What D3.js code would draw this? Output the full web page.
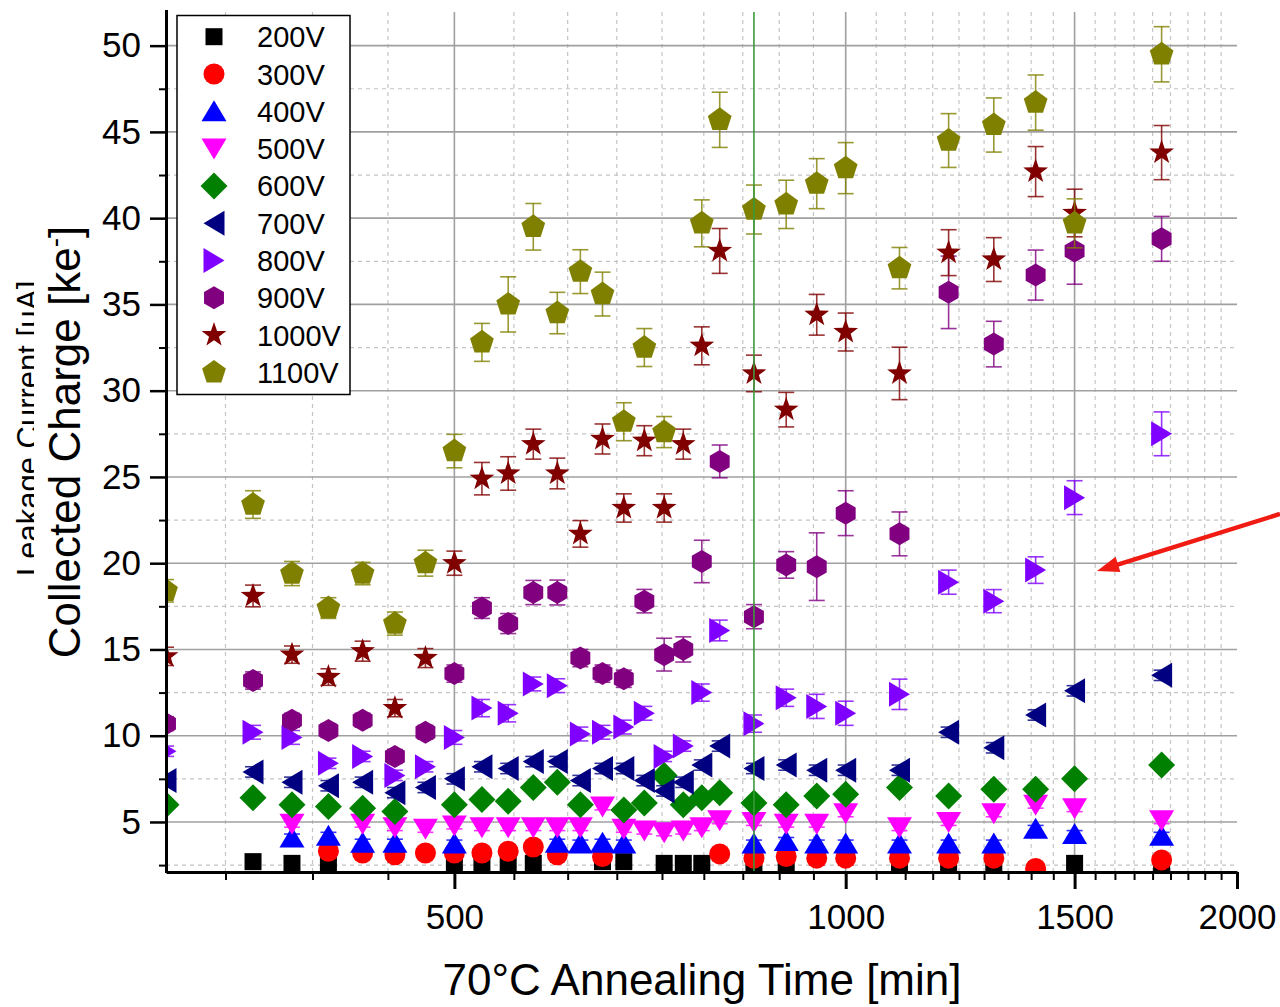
<!DOCTYPE html>
<html>
<head>
<meta charset="utf-8">
<script src="https://cdn.jsdelivr.net/npm/d3@7"></script>
<style>
  body { margin: 0; background: #fff; }
  svg { display: block; font-family: "Liberation Sans", Arial, sans-serif; }
</style>
</head>
<body>
<svg id="chart" width="1280" height="1007"></svg>
<script>
// annealing times [min] shared by all series
const times = [300,350,375,400,425,450,475,500,525,550,575,600,625,650,675,700,725,750,775,800,850,900,950,1000,1100,1200,1300,1400,1500,1750];

const seriesNames  = ["200V","300V","400V","500V","600V","700V","800V","900V","1000V","1100V"];
const seriesColors = ["#000000","#ff0000","#0000ff","#ff00ff","#008000","#000080","#8000ff","#800080","#800000","#808000"];
const seriesShapes = ["square","circle","up","down","diamond","left","right","hexagon","star","pentagon"];

// collected charge [ke-], one value per time (null = no point)
const charge200  = [null,2.7,2.6,2.6,null,null,null,2.6,2.6,2.6,2.6,null,null,2.7,2.7,null,2.6,2.6,2.6,null,2.6,2.6,null,null,2.6,2.6,2.6,null,2.6,2.6];
const charge300  = [null,null,null,3.3,3.2,3.1,3.2,3.2,3.2,3.3,3.55,3.1,null,3.0,null,null,null,null,null,3.15,2.9,3.0,2.9,2.9,2.9,2.9,2.9,2.3,null,2.8];
const charge400  = [null,null,4.1,4.2,3.8,3.8,null,3.75,null,null,null,3.8,3.75,3.8,3.75,null,null,null,null,null,3.75,3.9,3.75,3.75,3.75,3.75,3.75,4.6,4.3,4.2];
const charge500  = [null,null,4.9,null,4.9,4.7,4.6,4.8,4.7,4.7,4.7,4.7,4.7,5.9,4.6,4.5,4.4,4.5,4.7,5.1,5.0,4.9,4.9,5.5,4.7,5.0,5.5,6.0,5.8,5.1];
const charge600  = [6.0,6.4,6.0,5.9,5.8,5.6,null,6.0,6.3,6.2,7.0,7.3,6.0,null,5.7,6.1,7.7,6.0,6.4,6.7,6.1,6.0,6.5,6.6,7.0,6.5,6.9,6.9,7.5,8.3];
const charge700  = [7.4,7.9,7.3,7.1,7.3,6.7,7.0,7.5,8.2,8.1,8.5,8.5,7.4,8.1,8.1,7.4,6.8,7.3,8.3,9.4,8.1,8.3,8.0,8.0,8.0,10.2,9.3,11.2,12.6,13.5];
const charge800  = [9.1,10.2,9.9,8.4,8.8,7.7,8.2,9.9,11.6,11.3,13.0,12.9,10.1,10.2,10.5,11.3,8.8,9.4,12.5,16.1,10.7,12.2,11.7,11.3,12.4,18.9,17.8,19.6,23.8,27.5];
const charge900  = [10.7,13.2,10.9,10.3,10.9,8.8,10.2,13.6,17.4,16.5,18.3,18.3,14.5,13.6,13.3,17.8,14.7,15.0,20.1,25.9,16.9,19.9,19.8,22.9,21.7,35.7,32.7,36.7,38.1,38.8];
const charge1000 = [14.6,18.1,14.7,13.4,14.9,11.6,14.5,20.0,24.9,25.2,26.9,25.2,21.7,27.2,23.2,27.1,23.2,26.9,32.6,38.1,31.0,28.9,34.4,33.4,31.0,38.0,37.6,42.7,40.3,43.8];
const charge1100 = [18.4,23.4,19.4,17.4,19.4,16.5,20.0,26.5,32.8,35.0,39.5,34.5,36.9,35.6,28.2,32.5,27.6,null,39.7,45.7,40.5,40.8,42.0,42.9,37.1,44.5,45.4,46.7,39.7,49.5];

// error bars (+/-)
const err200  = [0.2,0.2,0.2,0.2,0.2,0.2,0.2,0.2,0.2,0.2,0.2,0.2,0.2,0.2,0.2,0.2,0.2,0.2,0.2,0.2,0.2,0.2,0.2,0.2,0.2,0.2,0.2,0.2,0.2,0.2];
const err300  = [0.3,0.3,0.3,0.3,0.3,0.3,0.3,0.3,0.3,0.3,0.3,0.3,0.3,0.3,0.3,0.3,0.3,0.3,0.3,0.3,0.4,0.4,0.4,0.4,0.4,0.4,0.4,0.3,0.3,0.3];
const err400  = [0.2,0.2,0.2,0.2,0.2,0.2,0.2,0.2,0.2,0.2,0.2,0.2,0.2,0.2,0.2,0.2,0.2,0.2,0.2,0.2,0.2,0.2,0.2,0.2,0.2,0.2,0.2,0.2,0.2,0.2];
const err500  = [0.2,0.2,0.2,0.2,0.2,0.2,0.2,0.2,0.2,0.2,0.2,0.2,0.2,0.2,0.2,0.2,0.2,0.2,0.2,0.2,0.2,0.2,0.2,0.2,0.2,0.2,0.2,0.2,0.2,0.2];
const err600  = [0.2,0.2,0.2,0.2,0.2,0.2,0.2,0.2,0.2,0.2,0.2,0.2,0.2,0.2,0.2,0.2,0.2,0.2,0.2,0.2,0.2,0.2,0.2,0.2,0.2,0.2,0.2,0.2,0.2,0.2];
const err700  = [0.3,0.3,0.3,0.3,0.3,0.3,0.3,0.3,0.3,0.3,0.3,0.3,0.3,0.3,0.3,0.3,0.3,0.3,0.3,0.3,0.3,0.3,0.3,0.3,0.3,0.3,0.3,0.3,0.3,0.3];
const err800  = [0.3,0.4,0.4,0.3,0.3,0.3,0.3,0.4,0.5,0.5,0.4,0.4,0.4,0.4,0.4,0.4,0.3,0.3,0.5,0.6,0.5,0.5,0.7,0.7,0.88,0.7,0.67,0.77,0.98,1.27];
const err900  = [0.4,0.5,0.4,0.4,0.4,0.4,0.4,0.5,0.6,0.58,0.7,0.72,0.5,0.5,0.5,0.68,0.95,0.73,1.23,0.95,0.7,0.77,1.96,1.3,1.27,2.1,1.32,1.45,1.93,1.3];
const err1000 = [0.53,0.63,0.5,0.48,0.58,0.5,0.55,0.7,0.94,0.97,0.87,0.89,0.77,0.87,0.82,0.87,0.82,0.87,1.1,1.3,1.06,1.0,1.18,1.1,1.52,1.33,1.27,1.45,1.38,1.57];
const err1100 = [0.65,0.8,0.7,0.6,0.65,0.67,0.75,0.97,1.1,1.6,1.35,1.2,1.27,1.27,1.1,1.1,0.9,null,1.36,1.6,1.42,1.4,1.45,1.48,1.2,1.56,1.57,1.6,1.42,1.6];

const xTicks = [500,1000,1500,2000];
const yTicks = [5,10,15,20,25,30,35,40,45,50];
const markerTime = 850;   // green marker line

const allCharge = [charge200,charge300,charge400,charge500,charge600,charge700,charge800,charge900,charge1000,charge1100];
const allErr    = [err200,err300,err400,err500,err600,err700,err800,err900,err1000,err1100];

const svg = d3.select("#chart");
const L = 166, R = 1237, T = 12, B = 872;

const x = d3.scaleLog().domain([300, 2000]).range([L, R]);
const y = d3.scaleLinear().domain([2.1, 51.95]).range([B, T]);

const xMinor = d3.range(6, 36).filter(k => k % 9 !== 0).map(k => k * 500 / 9);
const yMinor = d3.range(2.5, 50, 5);

// marker shapes, centred at 0,0
function shapePath(kind) {
  const poly = pts => "M" + pts.map(p => p.join(",")).join("L") + "Z";
  const ring = (n, r, rot) => d3.range(n).map(i => {
    const a = rot + i * 2 * Math.PI / n;
    return [r * Math.cos(a), r * Math.sin(a)];
  });
  switch (kind) {
    case "square":  return "M-8.5,-8.5h17v17h-17z";
    case "circle":  return d3.symbol(d3.symbolCircle, Math.PI * 10.5 * 10.5)();
    case "up":      return poly([[0,-11],[12.5,10],[-12.5,10]]);
    case "down":    return poly([[0,11],[12.5,-10],[-12.5,-10]]);
    case "diamond": return poly([[0,-13.5],[13.5,0],[0,13.5],[-13.5,0]]);
    case "left":    return poly([[-10.5,0],[10.5,-12.5],[10.5,12.5]]);
    case "right":   return poly([[10.5,0],[-10.5,-12.5],[-10.5,12.5]]);
    case "hexagon": return poly(ring(6, 11.5, -Math.PI / 2));
    case "pentagon":return poly(ring(5, 12.5, -Math.PI / 2));
    case "star": {
      const pts = d3.range(10).map(i => {
        const r = i % 2 ? 5.2 : 13;
        const a = -Math.PI / 2 + i * Math.PI / 5;
        return [r * Math.cos(a), r * Math.sin(a)];
      });
      return poly(pts);
    }
  }
}

svg.append("defs").append("clipPath").attr("id", "plotclip")
  .append("rect").attr("x", L).attr("y", T - 2).attr("width", R - L).attr("height", B - T + 2);

// grid
const grid = svg.append("g");
grid.selectAll(".vminor").data(xMinor).join("line")
  .attr("x1", d => x(d)).attr("x2", d => x(d)).attr("y1", T).attr("y2", B)
  .attr("stroke", "#c4c4c4").attr("stroke-width", 1.2).attr("stroke-dasharray", "4,4");
grid.selectAll(".hminor").data(yMinor).join("line")
  .attr("x1", L).attr("x2", R).attr("y1", d => y(d)).attr("y2", d => y(d))
  .attr("stroke", "#c4c4c4").attr("stroke-width", 1.2).attr("stroke-dasharray", "4,4");
grid.selectAll(".vmajor").data(xTicks.filter(d => d < 2000)).join("line")
  .attr("x1", d => x(d)).attr("x2", d => x(d)).attr("y1", T).attr("y2", B)
  .attr("stroke", "#a0a0a0").attr("stroke-width", 1.6);
grid.selectAll(".hmajor").data(yTicks).join("line")
  .attr("x1", L).attr("x2", R).attr("y1", d => y(d)).attr("y2", d => y(d))
  .attr("stroke", "#a0a0a0").attr("stroke-width", 1.6);

// data
const plot = svg.append("g").attr("clip-path", "url(#plotclip)");
seriesNames.forEach((name, s) => {
  const pts = times.map((t, i) => ({t, v: allCharge[s][i], e: allErr[s][i]})).filter(d => d.v != null);
  const g = plot.append("g");
  const eb = g.selectAll(".eb").data(pts.filter(d => d.e)).join("g")
    .attr("stroke", seriesColors[s]).attr("stroke-opacity", 0.8).attr("stroke-width", 1.6);
  eb.append("line").attr("x1", d => x(d.t)).attr("x2", d => x(d.t))
    .attr("y1", d => y(d.v - d.e)).attr("y2", d => y(d.v + d.e));
  eb.append("line").attr("x1", d => x(d.t) - 8).attr("x2", d => x(d.t) + 8)
    .attr("y1", d => y(d.v - d.e)).attr("y2", d => y(d.v - d.e));
  eb.append("line").attr("x1", d => x(d.t) - 8).attr("x2", d => x(d.t) + 8)
    .attr("y1", d => y(d.v + d.e)).attr("y2", d => y(d.v + d.e));
  g.selectAll(".pt").data(pts).join("path")
    .attr("d", shapePath(seriesShapes[s]))
    .attr("transform", d => `translate(${x(d.t)},${y(d.v)})`)
    .attr("fill", seriesColors[s]);
});

// green vertical marker
svg.append("line")
  .attr("x1", x(markerTime)).attr("x2", x(markerTime)).attr("y1", T).attr("y2", B)
  .attr("stroke", "#3a9a3a").attr("stroke-width", 1.6);

// axes
const fontFam = '"Liberation Sans", Arial, sans-serif';
svg.append("g").attr("transform", `translate(0,${B})`)
  .call(d3.axisBottom(x).tickValues(xMinor).tickSize(8).tickSizeOuter(0).tickFormat(""))
  .call(g => g.select(".domain").remove())
  .call(g => g.selectAll(".tick line").attr("stroke-width", 2));
svg.append("g").attr("transform", `translate(0,${B})`)
  .call(d3.axisBottom(x).tickValues(xTicks).tickSize(17).tickSizeOuter(0).tickPadding(15).tickFormat(d3.format("d")))
  .attr("font-size", 35).attr("font-family", fontFam)
  .call(g => g.select(".domain").attr("stroke-width", 3))
  .call(g => g.selectAll(".tick line").attr("stroke-width", 3));

svg.append("g").attr("transform", `translate(${L},0)`)
  .call(d3.axisLeft(y).tickValues(yMinor).tickSize(7).tickSizeOuter(0).tickFormat(""))
  .call(g => g.select(".domain").remove())
  .call(g => g.selectAll(".tick line").attr("stroke-width", 2));
svg.append("g").attr("transform", `translate(${L},0)`)
  .call(d3.axisLeft(y).tickValues(yTicks).tickSize(16).tickSizeOuter(0).tickPadding(9))
  .attr("font-size", 35).attr("font-family", fontFam)
  .call(g => g.select(".domain").attr("stroke-width", 3).attr("d", `M0.5,${B + 1}V${T - 2}`))
  .call(g => g.selectAll(".tick line").attr("stroke-width", 2.5));

// leftover label partly hidden behind the axis title
svg.append("text")
  .attr("transform", "translate(39,576) rotate(-90)")
  .attr("font-size", 31).attr("fill", "#000")
  .text("Leakage Current [µA]");
svg.append("rect").attr("x", 34).attr("y", 210).attr("width", 58).attr("height", 470).attr("fill", "#fff");

// axis titles
const yTitle = svg.append("text")
  .attr("transform", "translate(80,442) rotate(-90)")
  .attr("text-anchor", "middle").attr("font-size", 44).attr("fill", "#000");
yTitle.append("tspan").text("Collected Charge [ke");
yTitle.append("tspan").attr("font-size", 28).attr("dy", -16).text("-");
yTitle.append("tspan").attr("dy", 16).text("]");

svg.append("text")
  .attr("x", 702).attr("y", 995)
  .attr("text-anchor", "middle").attr("font-size", 44).attr("fill", "#000")
  .text("70°C Annealing Time [min]");

// legend
const leg = svg.append("g");
leg.append("rect").attr("x", 177).attr("y", 15.5).attr("width", 173).attr("height", 379)
  .attr("fill", "#fff").attr("stroke", "#000").attr("stroke-width", 1.5);
seriesNames.forEach((name, s) => {
  const cy = 36.7 + s * 37.3;
  leg.append("path").attr("d", shapePath(seriesShapes[s]))
    .attr("transform", `translate(214,${cy})`).attr("fill", seriesColors[s]);
  leg.append("text").attr("x", 257).attr("y", cy + 10.5)
    .attr("font-size", 29).attr("fill", "#000").text(name);
});

// red annotation arrow
const a0 = [1280, 514], a1 = [1097, 571];
const dx = a1[0] - a0[0], dy = a1[1] - a0[1], len = Math.hypot(dx, dy);
const ux = dx / len, uy = dy / len;
const bx = a1[0] - ux * 22, by = a1[1] - uy * 22;
svg.append("line").attr("x1", a0[0]).attr("y1", a0[1]).attr("x2", bx + ux * 2).attr("y2", by + uy * 2)
  .attr("stroke", "#f01c14").attr("stroke-width", 4.5);
svg.append("path")
  .attr("d", `M${a1[0]},${a1[1]}L${bx - uy * 8},${by + ux * 8}L${bx + uy * 8},${by - ux * 8}Z`)
  .attr("fill", "#f01c14");
</script>
</body>
</html>
